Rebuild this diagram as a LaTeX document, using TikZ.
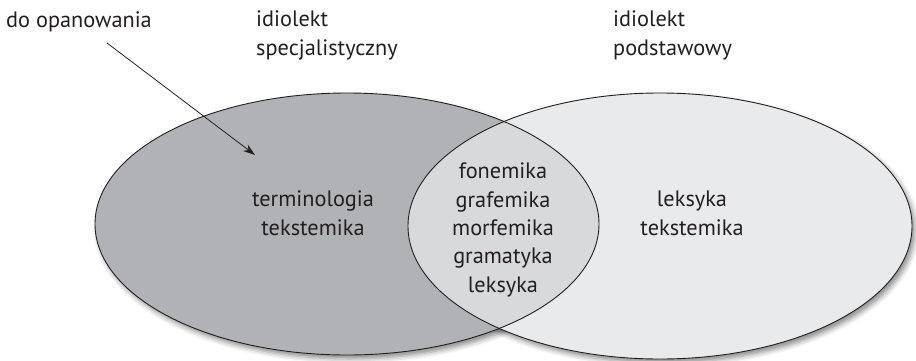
\documentclass[tikz,border=0pt]{standalone}
\usepackage{fontspec}
\setmainfont{PT Sans}
\usetikzlibrary{arrows.meta,shadows.blur}
\definecolor{darkfill}{HTML}{B1B2B5}
\definecolor{lightfill}{HTML}{E9EAEB}
\definecolor{lensfill}{HTML}{D8D9DB}
\definecolor{ink}{HTML}{231F20}
\tikzset{
  lbl/.style={text=ink, font=\fontsize{22.3}{28.3}\selectfont, inner sep=0pt},
  outline/.style={draw=ink, line width=0.9pt},
  shd/.style={blur shadow={shadow xshift=3pt, shadow yshift=-4pt, shadow blur radius=5pt, shadow opacity=45}},
  pointer/.style={draw=ink, line width=0.8pt, -{Stealth[length=12pt,width=8pt]}}
}
\begin{document}
\begin{tikzpicture}[x=1pt,y=-1pt]
\useasboundingbox (0,0) rectangle (916,360);
% shadows
\path[shd] (347,224) ellipse [x radius=252, y radius=131];
\path[shd] (660,226) ellipse [x radius=252, y radius=133];
% fills
\fill[darkfill] (347,224) ellipse [x radius=252, y radius=131];
\fill[lightfill] (660,226) ellipse [x radius=252, y radius=133];
\begin{scope}
  \clip (347,224) ellipse [x radius=252, y radius=131];
  \fill[lensfill] (660,226) ellipse [x radius=252, y radius=133];
\end{scope}
% outlines
\draw[outline] (347,224) ellipse [x radius=252, y radius=131];
\draw[outline] (660,226) ellipse [x radius=252, y radius=133];
% labels (anchor = baseline of last line)
\node[lbl, anchor=base west, align=left] (opan) at (6,27) {do opanowania};
\node[lbl, anchor=base west, align=left] (spec) at (256,55) {idiolekt\\specjalistyczny};
\node[lbl, anchor=base west, align=left] (podst) at (613,55) {idiolekt\\podstawowy};
\node[lbl, anchor=base, align=center] (term) at (313,235) {terminologia\\tekstemika};
\node[lbl, anchor=base, align=center] (wsp) at (503,292) {fonemika\\grafemika\\morfemika\\gramatyka\\leksyka};
\node[lbl, anchor=base, align=center] (leks) at (692,235) {leksyka\\tekstemika};
% arrow
\coordinate (a0) at (107,43);
\coordinate (a1) at (255,155);
\draw[pointer] (a0) -- (a1);
\end{tikzpicture}
\end{document}
